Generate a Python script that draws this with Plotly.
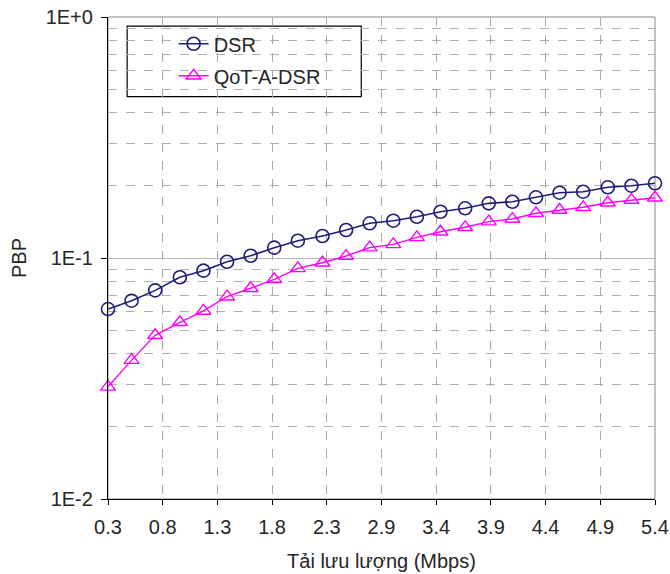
import plotly.graph_objects as go

load_mbps = [0.3, 0.52, 0.74, 0.97, 1.19, 1.41, 1.63, 1.85, 2.07, 2.3, 2.52, 2.74,
             2.96, 3.18, 3.4, 3.63, 3.85, 4.07, 4.29, 4.51, 4.73, 4.96, 5.18, 5.4]
dsr = [0.0614, 0.0665, 0.0734, 0.0832, 0.0886, 0.0965, 0.1022, 0.1104, 0.1180, 0.1234,
       0.1307, 0.1393, 0.1428, 0.1483, 0.1556, 0.1608, 0.1686, 0.1712, 0.1786, 0.1866,
       0.1884, 0.1965, 0.1995, 0.2042]
qot_a_dsr = [0.0292, 0.0377, 0.0478, 0.0541, 0.0603, 0.0691, 0.0749, 0.0816, 0.0906, 0.0956,
             0.1019, 0.1104, 0.1139, 0.1218, 0.1285, 0.1341, 0.1415, 0.1451, 0.1533, 0.1582,
             0.1623, 0.1696, 0.1740, 0.1779]

x_tick_values = [0.3, 0.81, 1.32, 1.83, 2.34, 2.85, 3.36, 3.87, 4.38, 4.89, 5.4]
x_tick_labels = ["0.3", "0.8", "1.3", "1.8", "2.3", "2.9", "3.4", "3.9", "4.4", "4.9", "5.4"]
y_tick_values = [0.01, 0.1, 1]
y_tick_labels = ["1E-2", "1E-1", "1E+0"]

FONT = "Arial, Liberation Sans, sans-serif"
NAVY = "#1e1e78"
MAGENTA = "#ff00ff"
TEXT = "#262626"

fig = go.Figure()
fig.add_trace(go.Scatter(
    x=load_mbps, y=dsr, name="DSR", mode="lines+markers", legendgroup="a",
    line=dict(color=NAVY, width=1.6),
    marker=dict(symbol="circle-open", size=13, color=NAVY, line=dict(width=1.6)),
    cliponaxis=False))
fig.add_trace(go.Scatter(
    x=load_mbps, y=qot_a_dsr, name="QoT-A-DSR", mode="lines+markers", legendgroup="b",
    line=dict(color=MAGENTA, width=1.4),
    marker=dict(symbol="triangle-up-open", size=13, color=MAGENTA, line=dict(width=1.4)),
    cliponaxis=False))

fig.update_layout(
    width=670, height=574,
    margin=dict(l=108, r=15, t=17, b=75),
    paper_bgcolor="white", plot_bgcolor="white",
    font=dict(family=FONT, size=20, color=TEXT),
    showlegend=True,
    legend=dict(x=0.12, y=0.985, xanchor="left", yanchor="top",
                bgcolor="rgba(0,0,0,0)", borderwidth=0,
                tracegroupgap=3, font=dict(size=20, color=TEXT)),
    shapes=[dict(type="rect", xref="paper", yref="paper",
                 x0=0.035, x1=0.463, y0=0.835, y1=0.981,
                 line=dict(color="black", width=1.2), fillcolor="white", layer="below"),
            dict(type="rect", xref="paper", yref="paper", x0=0, x1=1, y0=0, y1=1,
                 line=dict(color="#888888", width=1), layer="below")],
)
fig.update_xaxes(
    range=[0.3, 5.4], tickvals=x_tick_values, ticktext=x_tick_labels,
    showline=True, linecolor="black", linewidth=1.2, automargin=False,
    ticks="outside", ticklen=5, tickcolor="black", ticklabelstandoff=5,
    showgrid=True, gridcolor="#a8a8a8", griddash="dash", gridwidth=1,
    zeroline=False,
    title=dict(text="Tải lưu lượng (Mbps)", standoff=16, font=dict(size=20, color=TEXT)),
)
fig.update_yaxes(
    type="log", range=[-2, 0], tickvals=y_tick_values, ticktext=y_tick_labels,
    showline=True, linecolor="black", linewidth=1.2, automargin=False,
    ticks="outside", ticklen=6, tickcolor="black", ticklabelstandoff=4,
    showgrid=True, gridcolor="#b8b8b8", gridwidth=1,
    minor=dict(showgrid=True, dtick="D1", gridcolor="#b0b0b0", griddash="dash", ticks=""),
    title=dict(text="PBP", standoff=13, font=dict(size=20, color=TEXT)),
)
fig.write_html("out.html", config={"displayModeBar": False},
               post_script="document.body.style.margin='0';")
